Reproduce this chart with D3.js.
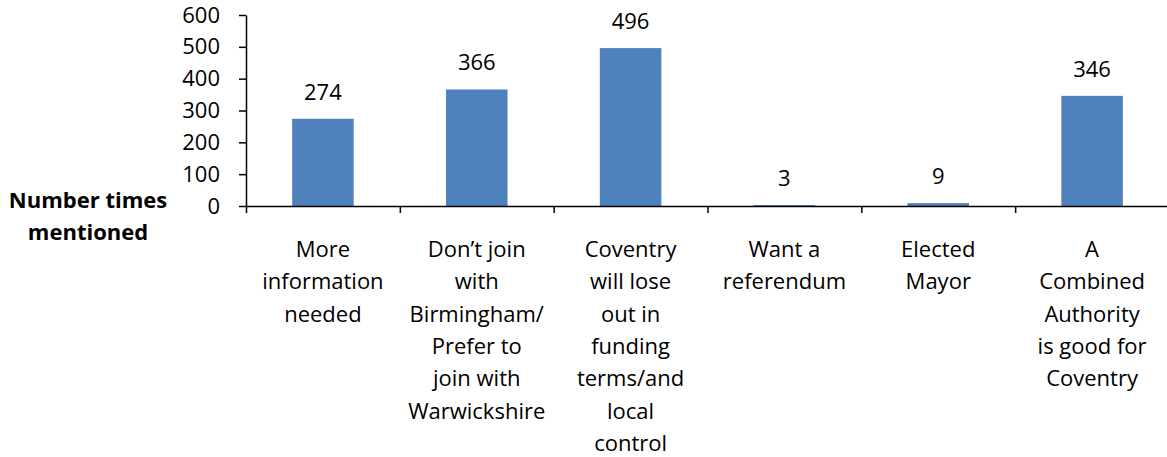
<!DOCTYPE html>
<html>
<head>
<meta charset="utf-8">
<script src="https://cdn.jsdelivr.net/npm/d3@7"></script>
<style>
  body { margin: 0; background: #fff; }
  text { font-family: "Open Sans", sans-serif; fill: #000; }
</style>
</head>
<body>
<div class="chart"></div>
<script>
var categories = [
  ["More", "information", "needed"],
  ["Don\u2019t join", "with", "Birmingham/", "Prefer to", "join with", "Warwickshire"],
  ["Coventry", "will lose", "out in", "funding", "terms/and", "local", "control"],
  ["Want a", "referendum"],
  ["Elected", "Mayor"],
  ["A", "Combined", "Authority", "is good for", "Coventry"]
];
var values = [274, 366, 496, 3, 9, 346];
var yTicks = [0, 100, 200, 300, 400, 500, 600];
var yTitle = ["Number times", "mentioned"];

var w = 1167, h = 457;
var plotLeft = 246, plotRight = 1169, plotTop = 15, plotBottom = 206;
var fontSize = 22;

var svg = d3.select(".chart")
  .append("svg")
  .attr("width", w)
  .attr("height", h);

var x = d3.scaleBand()
  .domain(d3.range(values.length))
  .range([plotLeft, plotRight])
  .paddingInner(0.6)
  .paddingOuter(0.3);

var xEdge = d3.scaleLinear()
  .domain([0, values.length])
  .range([plotLeft, plotRight]);

var y = d3.scaleLinear()
  .domain([0, 600])
  .range([plotBottom, plotTop]);

// bars
svg.selectAll("rect.bar")
  .data(values)
  .enter()
  .append("rect")
  .attr("class", "bar")
  .attr("x", function(d, i) { return x(i); })
  .attr("y", function(d) { return y(d); })
  .attr("width", x.bandwidth())
  .attr("height", function(d) { return plotBottom - y(d); })
  .attr("fill", "#4F81BD");

// value labels
svg.selectAll("text.val")
  .data(values)
  .enter()
  .append("text")
  .attr("class", "val")
  .attr("x", function(d, i) { return x(i) + x.bandwidth() / 2; })
  .attr("y", function(d) { return y(d) - 19; })
  .attr("text-anchor", "middle")
  .style("font-size", fontSize + "px")
  .text(function(d) { return d; });

// y axis
var yAxis = svg.append("g")
  .attr("transform", "translate(" + plotLeft + ",0)")
  .call(d3.axisLeft(y).tickValues(yTicks).tickSize(7).tickSizeOuter(0).tickPadding(19));
yAxis.selectAll("text")
  .style("font-size", fontSize + "px")
  .style("font-family", "'Open Sans', sans-serif")
  .attr("fill", "#000");

// x axis
svg.append("g")
  .attr("transform", "translate(0," + plotBottom + ")")
  .call(d3.axisBottom(xEdge).ticks(values.length).tickSize(7).tickSizeOuter(0).tickFormat(""));

svg.selectAll(".domain, .tick line")
  .attr("stroke", "#000")
  .attr("stroke-width", 1.5);

// category labels
svg.selectAll("text.cat")
  .data(categories)
  .enter()
  .append("text")
  .attr("class", "cat")
  .attr("text-anchor", "middle")
  .style("font-size", fontSize + "px")
  .each(function(lines, i) {
    d3.select(this).selectAll("tspan")
      .data(lines)
      .enter()
      .append("tspan")
      .attr("x", x(i) + x.bandwidth() / 2)
      .attr("y", function(d, j) { return 257 + j * 32.3; })
      .text(function(d) { return d; });
  });

// y title
svg.append("text")
  .attr("text-anchor", "middle")
  .style("font-size", fontSize + "px")
  .style("font-weight", "bold")
  .selectAll("tspan")
  .data(yTitle)
  .enter()
  .append("tspan")
  .attr("x", 88)
  .attr("y", function(d, j) { return 208 + j * 32; })
  .text(function(d) { return d; });
</script>
</body>
</html>
